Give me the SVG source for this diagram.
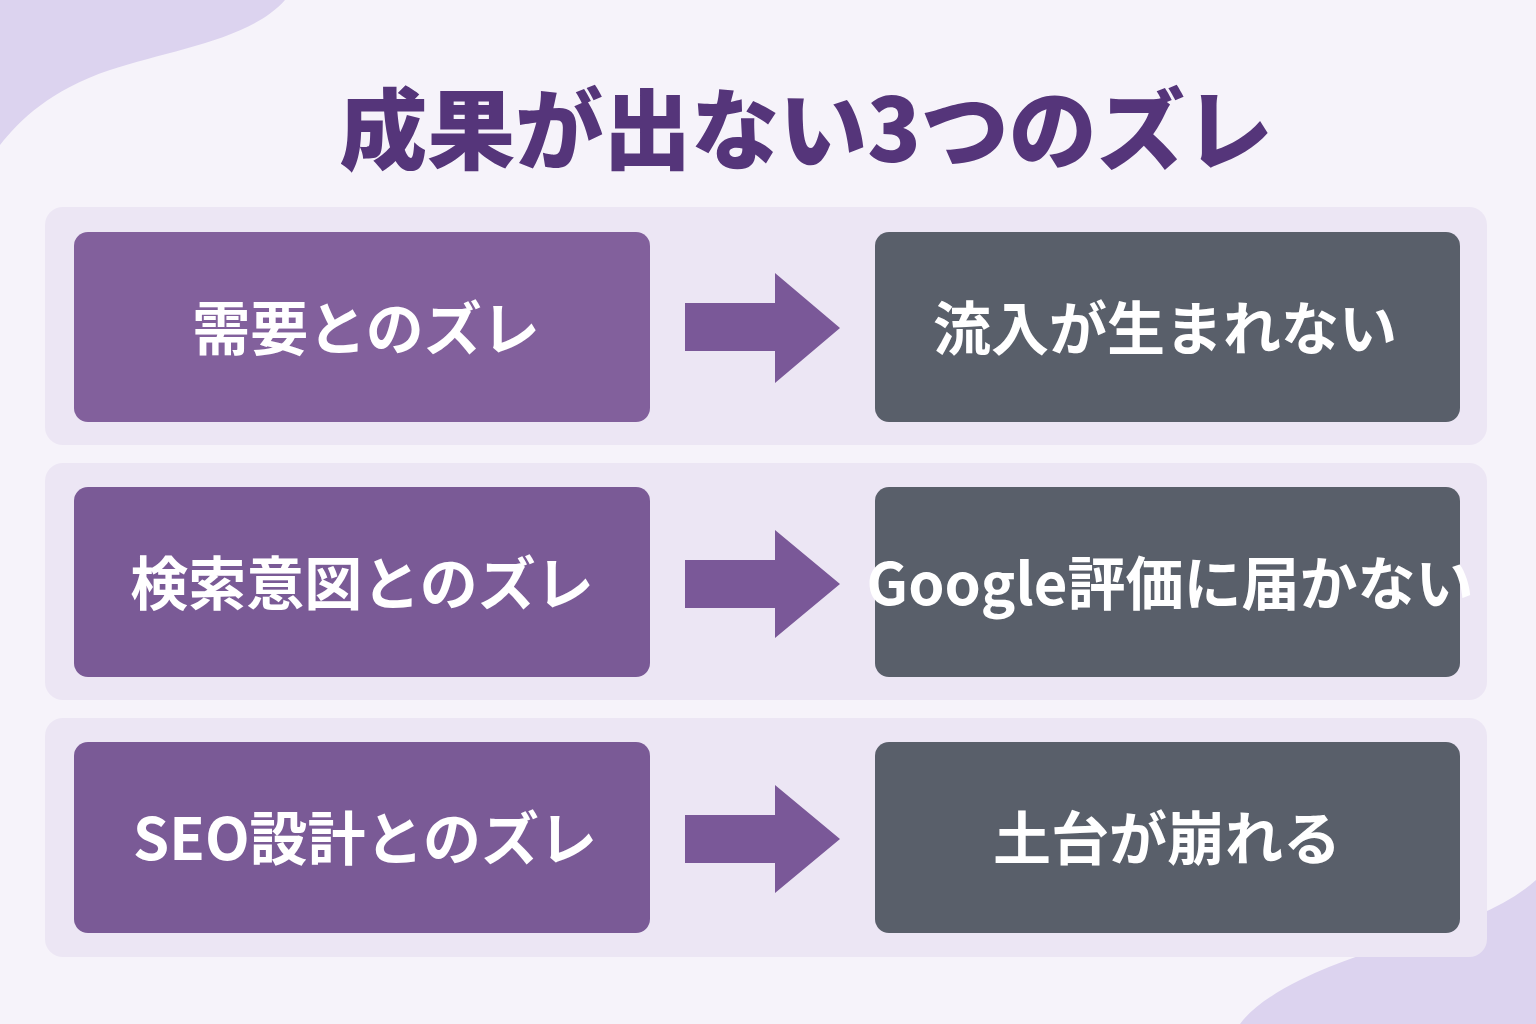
<svg xmlns="http://www.w3.org/2000/svg" width="1536" height="1024" viewBox="0 0 1536 1024">
<style>
.panel{fill:#ece6f4}
.l{fill:#7a5a96}
.r{fill:#595f6a}
.arr{fill:#7a5898}
.t{font-family:"Noto Sans CJK JP","Noto Sans",sans-serif;font-weight:700;fill:#fff;font-size:58px;text-anchor:middle}
.title{font-family:"Noto Sans CJK JP","Noto Sans",sans-serif;font-weight:900;fill:#55357a;font-size:88px;text-anchor:middle}
</style>
<rect width="1536" height="1024" fill="#f6f3fa"/>
<path d="M0 0H285C250 40 170 50 110 70C50 90 20 120 0 145Z" fill="#dcd3ef"/>
<path d="M1536 880C1480 930 1380 940 1300 980C1270 995 1250 1010 1240 1024H1536Z" fill="#dcd3ef"/>
<text class="title" x="806" y="162">成果が出ない3つのズレ</text>
<g id="row1">
<rect class="panel" x="45" y="207" width="1442" height="238" rx="18"/>
<rect x="74" y="232" width="576" height="190" rx="14" fill="#82609c"/>
<text class="t" x="366" y="350">需要とのズレ</text>
<rect class="r" x="875" y="232" width="585" height="190" rx="14"/>
<text class="t" x="1165" y="350">流入が生まれない</text>
</g>
<g id="row2">
<rect class="panel" x="45" y="463" width="1442" height="237" rx="18"/>
<rect class="l" x="74" y="487" width="576" height="190" rx="14"/>
<text class="t" x="362" y="605">検索意図とのズレ</text>
<rect class="r" x="875" y="487" width="585" height="190" rx="14"/>
<text class="t" x="1170" y="605">Google評価に届かない</text>
</g>
<g id="row3">
<rect class="panel" x="45" y="718" width="1442" height="239" rx="18"/>
<rect class="l" x="74" y="742" width="576" height="191" rx="14"/>
<text class="t" x="365" y="860">SEO設計とのズレ</text>
<rect class="r" x="875" y="742" width="585" height="191" rx="14"/>
<text class="t" x="1167" y="860">土台が崩れる</text>
</g>
<g id="connectors">
<path class="arr" d="M685 303H775V273L840 328L775 383V351H685Z"/>
<path class="arr" d="M685 560H775V530L840 584L775 638V608H685Z"/>
<path class="arr" d="M685 815H775V785L840 839L775 893V863H685Z"/>
</g>
</svg>
